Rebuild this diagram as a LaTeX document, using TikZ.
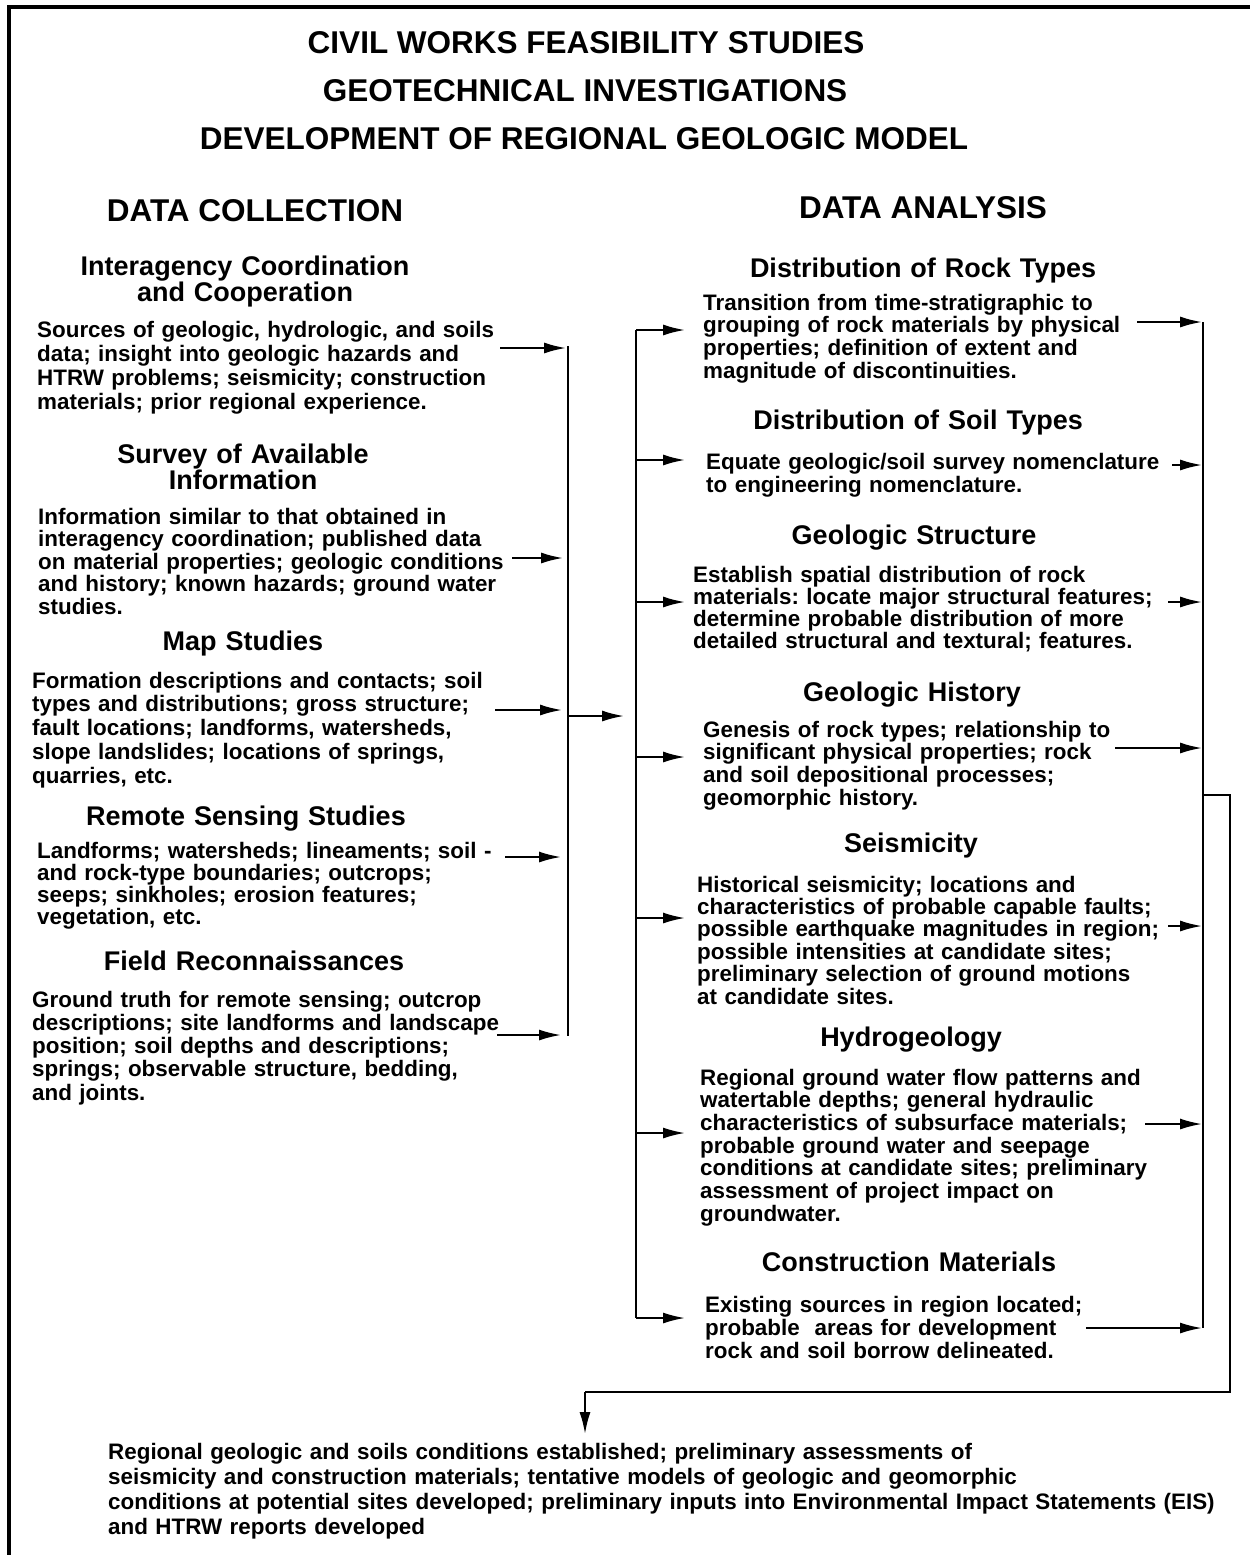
\documentclass[tikz,border=0pt]{standalone}
\usepackage{fontspec}
\setmainfont{Liberation Sans}
\usetikzlibrary{arrows.meta}
\frenchspacing
\begin{document}
\begin{tikzpicture}[x=1pt,y=-1pt,
  ttl/.style={font=\fontsize{31.5}{32}\selectfont\bfseries, anchor=base, inner sep=0pt},
  head/.style={font=\fontsize{27}{26.5}\selectfont\bfseries, align=center, text width=440pt, anchor=base, inner sep=0pt},
  body/.style={font=\fontsize{22.4}{#1}\selectfont\bfseries\frenchspacing, align=left, text width=520pt, anchor=base west, inner sep=0pt},
  ln/.style={line width=2pt},
  arr/.style={line width=2pt, -{Latex[length=22pt,width=11pt]}},
  frame/.style={line width=3.5pt}]
\useasboundingbox (0,0) rectangle (1250,1555);
\draw[frame] (9,1555) -- (9,7) -- (1250,7);

% titles
\node[ttl] (t1) at (586,53) {CIVIL WORKS FEASIBILITY STUDIES};
\node[ttl] (t2) at (585,101) {GEOTECHNICAL INVESTIGATIONS};
\node[ttl] (t3) at (584,149) {DEVELOPMENT OF REGIONAL GEOLOGIC MODEL};
\node[ttl] (dc) at (255,221) {DATA COLLECTION};
\node[ttl] (da) at (923,218) {DATA ANALYSIS};

% left column
\node[head] (h1) at (245,275) {Interagency Coordination\\and Cooperation};
\node[body=24.3] (b1) at (37,337) {Sources of geologic, hydrologic, and soils\\data; insight into geologic hazards and\\HTRW problems; seismicity; construction\\materials; prior regional experience.};
\node[head] (h2) at (243,463) {Survey of Available\\Information};
\node[body=22.5] (b2) at (38,524) {Information similar to that obtained in\\interagency coordination; published data\\on material properties; geologic conditions\\and history; known hazards; ground water\\studies.};
\node[head] (h3) at (243,650) {Map Studies};
\node[body=23.8] (b3) at (32,688) {Formation descriptions and contacts; soil\\types and distributions; gross structure;\\fault locations; landforms, watersheds,\\slope landslides; locations of springs,\\quarries, etc.};
\node[head] (h4) at (246,825) {Remote Sensing Studies};
\node[body=22] (b4) at (37,858) {Landforms; watersheds; lineaments; soil -\\and rock-type boundaries; outcrops;\\seeps; sinkholes; erosion features;\\vegetation, etc.};
\node[head] (h5) at (254,970) {Field Reconnaissances};
\node[body=23.3] (b5) at (32,1007) {Ground truth for remote sensing; outcrop\\descriptions; site landforms and landscape\\position; soil depths and descriptions;\\springs; observable structure, bedding,\\and joints.};

% right column
\node[head] (rh1) at (923,277) {Distribution of Rock Types};
\node[body=22.7] (rb1) at (703,310) {Transition from time-stratigraphic to\\grouping of rock materials by physical\\properties; definition of extent and\\magnitude of discontinuities.};
\node[head] (rh2) at (918,429) {Distribution of Soil Types};
\node[body=23] (rb2) at (706,469) {Equate geologic/soil survey nomenclature\\to engineering nomenclature.};
\node[head] (rh3) at (914,544) {Geologic Structure};
\node[body=22.3] (rb3) at (693,582) {Establish spatial distribution of rock\\materials: locate major structural features;\\determine probable distribution of more\\detailed structural and textural; features.};
\node[head] (rh4) at (912,701) {Geologic History};
\node[body=22.7] (rb4) at (703,737) {Genesis of rock types; relationship to\\significant physical properties; rock\\and soil depositional processes;\\geomorphic history.};
\node[head] (rh5) at (911,852) {Seismicity};
\node[body=22.4] (rb5) at (697,892) {Historical seismicity; locations and\\characteristics of probable capable faults;\\possible earthquake magnitudes in region;\\possible intensities at candidate sites;\\preliminary selection of ground motions\\at candidate sites.};
\node[head] (rh6) at (911,1046) {Hydrogeology};
\node[body=22.7] (rb6) at (700,1085) {Regional ground water flow patterns and\\watertable depths; general hydraulic\\characteristics of subsurface materials;\\probable ground water and seepage\\conditions at candidate sites; preliminary\\assessment of project impact on\\groundwater.};
\node[head] (rh7) at (909,1271) {Construction Materials};
\node[body=23] (rb7) at (705,1312) {Existing sources in region located;\\probable\ \ areas for development\\rock and soil borrow delineated.};

% bottom
\node[body=25, text width=1200pt] (res) at (108,1459) {Regional geologic and soils conditions established; preliminary assessments of\\seismicity and construction materials; tentative models of geologic and geomorphic\\conditions at potential sites developed; preliminary inputs into Environmental Impact Statements (EIS)\\and HTRW reports developed};

% left bracket
\coordinate (la1) at (500,348);  \coordinate (lt1) at (566,348);
\coordinate (la2) at (512,558);  \coordinate (lt2) at (563,558);
\coordinate (la3) at (495,710);  \coordinate (lt3) at (562,710);
\coordinate (la4) at (505,857);  \coordinate (lt4) at (561,857);
\coordinate (la5) at (497,1035); \coordinate (lt5) at (561,1035);
\coordinate (lvtop) at (568,346);
\coordinate (lvbot) at (568,1036);
\coordinate (lout) at (568,716);
\coordinate (loutt) at (624,716);
\draw[ln] (lvtop) -- (lvbot);
\foreach \i in {1,...,5} {\draw[arr] (la\i) -- (lt\i);}
\draw[arr] (lout) -- (loutt);

% right distribution bracket
\coordinate (rvtop) at (636,330);
\coordinate (rvbot) at (636,1318);
\draw[ln] (rvtop) -- (rvbot);
\foreach \y [count=\i] in {330,460,602,757,918,1133,1318} {
  \coordinate (rs\i) at (636,\y);
  \coordinate (re\i) at (685,\y);
  \draw[arr] (rs\i) -- (re\i);
}

% right collecting bracket
\coordinate (cvtop) at (1203,322);
\coordinate (cvbot) at (1203,1328);
\draw[ln] (cvtop) -- (cvbot);
\foreach \x/\y [count=\i] in {1137/322,1172/465,1168/602,1115/748,1168/926,1145/1124,1086/1328} {
  \coordinate (ca\i) at (\x,\y);
  \coordinate (ct\i) at (1202,\y);
  \draw[arr] (ca\i) -- (ct\i);
}

% output path
\coordinate (o1) at (1203,795);
\coordinate (o2) at (1230,795);
\coordinate (o3) at (1230,1392);
\coordinate (o4) at (585,1392);
\coordinate (o5) at (585,1434);
\draw[ln] (o1) -- (o2) -- (o3) -- (o4);
\draw[arr] (o4) -- (o5);
\end{tikzpicture}
\end{document}
